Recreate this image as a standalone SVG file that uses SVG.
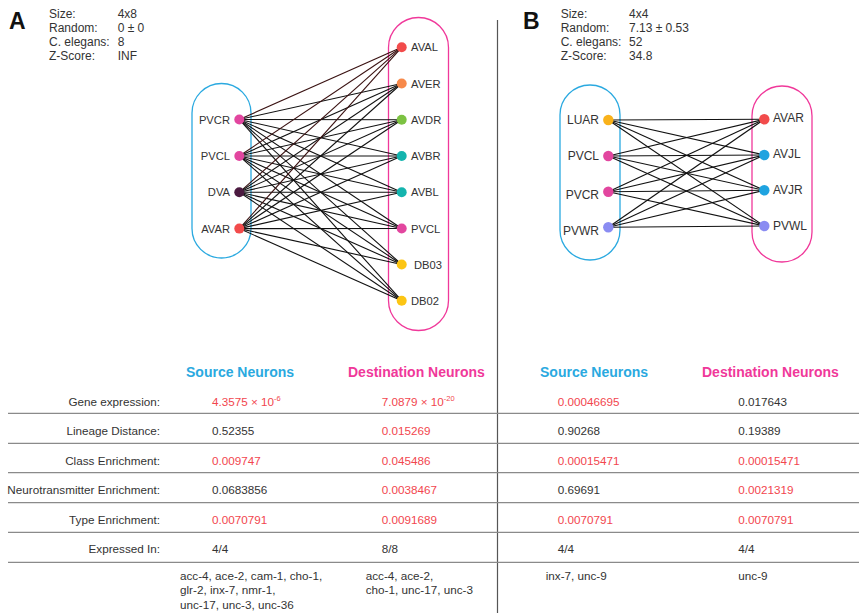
<svg xmlns="http://www.w3.org/2000/svg" width="859" height="613" viewBox="0 0 859 613">
  <style>
    text { font-family: "Liberation Sans", Arial, sans-serif; fill: #333; }
    .panel { font-size: 23px; font-weight: bold; fill: #111; }
    .stat { font-size: 12px; }
    .lblA { font-size: 11.2px; }
    .lblB { font-size: 12px; }
    .row { font-size: 11.7px; text-anchor: end; }
    .val { font-size: 11.7px; }
    .red { fill: #f2464e; }
    .hsrc { font-size: 14px; font-weight: bold; fill: #2aa9e0; }
    .hdst { font-size: 14px; font-weight: bold; fill: #f0389a; }
    .pillS { fill: none; stroke: #2aa9e0; stroke-width: 1.3; }
    .pillD { fill: none; stroke: #f0389a; stroke-width: 1.3; }
    .edge { stroke: #111; stroke-width: 1.1; }
    .edgeR { stroke: #3a1212; stroke-width: 1.1; }
    .rule { stroke: #8a8a8a; stroke-width: 1.2; }
  </style>

  <!-- panel headers and statistics -->
  <g id="stats-a">
    <text class="panel" x="9" y="29">A</text>
    <text class="stat" x="49" y="18">Size:</text>
    <text class="stat" x="49" y="31.9">Random:</text>
    <text class="stat" x="49" y="45.8">C. elegans:</text>
    <text class="stat" x="49" y="59.7">Z-Score:</text>
    <text class="stat" x="117.7" y="18">4x8</text>
    <text class="stat" x="117.7" y="31.9">0 ± 0</text>
    <text class="stat" x="117.7" y="45.8">8</text>
    <text class="stat" x="117.7" y="59.7">INF</text>
  </g>
  <g id="stats-b">
    <text class="panel" x="523" y="29">B</text>
    <text class="stat" x="560.7" y="18">Size:</text>
    <text class="stat" x="560.7" y="31.9">Random:</text>
    <text class="stat" x="560.7" y="45.8">C. elegans:</text>
    <text class="stat" x="560.7" y="59.7">Z-Score:</text>
    <text class="stat" x="629" y="18">4x4</text>
    <text class="stat" x="629" y="31.9">7.13 ± 0.53</text>
    <text class="stat" x="629" y="45.8">52</text>
    <text class="stat" x="629" y="59.7">34.8</text>
  </g>

  <!-- divider between the two panels -->
  <line x1="497.5" y1="20" x2="497.5" y2="613" stroke="#555" stroke-width="1.2"/>

  <!-- group outlines -->
  <g id="groups">
    <rect class="pillS" x="192" y="83.5" width="59" height="174.5" rx="29.5"/>
    <rect class="pillD" x="388.5" y="17.5" width="60" height="313" rx="30"/>
    <rect class="pillS" x="560" y="85" width="60" height="175" rx="30"/>
    <rect class="pillD" x="752" y="86" width="60" height="176" rx="30"/>
  </g>

  <!-- connectors -->
  <g id="connectors">
    <!-- panel A: every source to every destination -->
    <g>
      <line class="edgeR" x1="239.3" y1="119.5" x2="401.7" y2="47.3"/>
      <line class="edge" x1="239.3" y1="119.5" x2="401.7" y2="83.5"/>
      <line class="edge" x1="239.3" y1="119.5" x2="401.7" y2="119.7"/>
      <line class="edge" x1="239.3" y1="119.5" x2="401.7" y2="156"/>
      <line class="edge" x1="239.3" y1="119.5" x2="401.7" y2="192.3"/>
      <line class="edge" x1="239.3" y1="119.5" x2="401.7" y2="228.5"/>
      <line class="edge" x1="239.3" y1="119.5" x2="401.7" y2="264.5"/>
      <line class="edge" x1="239.3" y1="119.5" x2="401.7" y2="300.7"/>

      <line class="edgeR" x1="239.3" y1="156" x2="401.7" y2="47.3"/>
      <line class="edge" x1="239.3" y1="156" x2="401.7" y2="83.5"/>
      <line class="edge" x1="239.3" y1="156" x2="401.7" y2="119.7"/>
      <line class="edge" x1="239.3" y1="156" x2="401.7" y2="156"/>
      <line class="edge" x1="239.3" y1="156" x2="401.7" y2="192.3"/>
      <line class="edge" x1="239.3" y1="156" x2="401.7" y2="228.5"/>
      <line class="edge" x1="239.3" y1="156" x2="401.7" y2="264.5"/>
      <line class="edge" x1="239.3" y1="156" x2="401.7" y2="300.7"/>

      <line class="edgeR" x1="239.3" y1="192.3" x2="401.7" y2="47.3"/>
      <line class="edge" x1="239.3" y1="192.3" x2="401.7" y2="83.5"/>
      <line class="edge" x1="239.3" y1="192.3" x2="401.7" y2="119.7"/>
      <line class="edge" x1="239.3" y1="192.3" x2="401.7" y2="156"/>
      <line class="edge" x1="239.3" y1="192.3" x2="401.7" y2="192.3"/>
      <line class="edge" x1="239.3" y1="192.3" x2="401.7" y2="228.5"/>
      <line class="edge" x1="239.3" y1="192.3" x2="401.7" y2="264.5"/>
      <line class="edge" x1="239.3" y1="192.3" x2="401.7" y2="300.7"/>

      <line class="edgeR" x1="239.3" y1="228.6" x2="401.7" y2="47.3"/>
      <line class="edge" x1="239.3" y1="228.6" x2="401.7" y2="83.5"/>
      <line class="edge" x1="239.3" y1="228.6" x2="401.7" y2="119.7"/>
      <line class="edge" x1="239.3" y1="228.6" x2="401.7" y2="156"/>
      <line class="edge" x1="239.3" y1="228.6" x2="401.7" y2="192.3"/>
      <line class="edge" x1="239.3" y1="228.6" x2="401.7" y2="228.5"/>
      <line class="edge" x1="239.3" y1="228.6" x2="401.7" y2="264.5"/>
      <line class="edge" x1="239.3" y1="228.6" x2="401.7" y2="300.7"/>
    </g>
    <!-- panel B: every source to every destination -->
    <g>
      <line class="edge" x1="608.3" y1="120" x2="764.3" y2="119.3"/>
      <line class="edge" x1="608.3" y1="120" x2="764.3" y2="155"/>
      <line class="edge" x1="608.3" y1="120" x2="764.3" y2="190.3"/>
      <line class="edge" x1="608.3" y1="120" x2="764.3" y2="226"/>
      <line class="edge" x1="608.3" y1="156" x2="764.3" y2="119.3"/>
      <line class="edge" x1="608.3" y1="156" x2="764.3" y2="155"/>
      <line class="edge" x1="608.3" y1="156" x2="764.3" y2="190.3"/>
      <line class="edge" x1="608.3" y1="156" x2="764.3" y2="226"/>
      <line class="edge" x1="608.3" y1="191.7" x2="764.3" y2="119.3"/>
      <line class="edge" x1="608.3" y1="191.7" x2="764.3" y2="155"/>
      <line class="edge" x1="608.3" y1="191.7" x2="764.3" y2="190.3"/>
      <line class="edge" x1="608.3" y1="191.7" x2="764.3" y2="226"/>
      <line class="edge" x1="608.3" y1="227.3" x2="764.3" y2="119.3"/>
      <line class="edge" x1="608.3" y1="227.3" x2="764.3" y2="155"/>
      <line class="edge" x1="608.3" y1="227.3" x2="764.3" y2="190.3"/>
      <line class="edge" x1="608.3" y1="227.3" x2="764.3" y2="226"/>
    </g>
  </g>

  <!-- panel A source neurons -->
  <g id="a-src-pvcr"><circle cx="239.3" cy="119.5" r="5" fill="#e2469f"/><text class="lblA" x="230" y="123.5" text-anchor="end">PVCR</text></g>
  <g id="a-src-pvcl"><circle cx="239.3" cy="156" r="5" fill="#e2469f"/><text class="lblA" x="230" y="160" text-anchor="end">PVCL</text></g>
  <g id="a-src-dva"><circle cx="239.3" cy="192.3" r="5" fill="#4b1a40"/><text class="lblA" x="230" y="196.3" text-anchor="end">DVA</text></g>
  <g id="a-src-avar"><circle cx="239.3" cy="228.6" r="5" fill="#f24b4b"/><text class="lblA" x="230" y="232.6" text-anchor="end">AVAR</text></g>

  <!-- panel A destination neurons -->
  <g id="a-dst-aval"><circle cx="401.7" cy="47.3" r="5" fill="#f24b4b"/><text class="lblA" x="411" y="51.3">AVAL</text></g>
  <g id="a-dst-aver"><circle cx="401.7" cy="83.5" r="5" fill="#f7894a"/><text class="lblA" x="411" y="87.5">AVER</text></g>
  <g id="a-dst-avdr"><circle cx="401.7" cy="119.7" r="5" fill="#7cc242"/><text class="lblA" x="411" y="123.7">AVDR</text></g>
  <g id="a-dst-avbr"><circle cx="401.7" cy="156" r="5" fill="#14b4ae"/><text class="lblA" x="411" y="160">AVBR</text></g>
  <g id="a-dst-avbl"><circle cx="401.7" cy="192.3" r="5" fill="#14b4ae"/><text class="lblA" x="411" y="196.3">AVBL</text></g>
  <g id="a-dst-pvcl"><circle cx="401.7" cy="228.5" r="5" fill="#e2469f"/><text class="lblA" x="411" y="232.5">PVCL</text></g>
  <g id="a-dst-db03"><circle cx="401.7" cy="264.5" r="5" fill="#fcc514"/><text class="lblA" x="414" y="268.5">DB03</text></g>
  <g id="a-dst-db02"><circle cx="401.7" cy="300.7" r="5" fill="#fcc514"/><text class="lblA" x="411" y="304.7">DB02</text></g>

  <!-- panel B source neurons -->
  <g id="b-src-luar"><circle cx="608.3" cy="120" r="5.2" fill="#f9b21b"/><text class="lblB" x="599" y="124.2" text-anchor="end">LUAR</text></g>
  <g id="b-src-pvcl"><circle cx="608.3" cy="156" r="5.2" fill="#e2469f"/><text class="lblB" x="599" y="160.2" text-anchor="end">PVCL</text></g>
  <g id="b-src-pvcr"><circle cx="608.3" cy="191.7" r="5.2" fill="#e2469f"/><text class="lblB" x="599" y="199" text-anchor="end">PVCR</text></g>
  <g id="b-src-pvwr"><circle cx="608.3" cy="227.3" r="5.2" fill="#8a8cf2"/><text class="lblB" x="599" y="235" text-anchor="end">PVWR</text></g>

  <!-- panel B destination neurons -->
  <g id="b-dst-avar"><circle cx="764.3" cy="119.3" r="5.2" fill="#f24b4b"/><text class="lblB" x="773" y="122">AVAR</text></g>
  <g id="b-dst-avjl"><circle cx="764.3" cy="155" r="5.2" fill="#1fa3e0"/><text class="lblB" x="773" y="158">AVJL</text></g>
  <g id="b-dst-avjr"><circle cx="764.3" cy="190.3" r="5.2" fill="#1fa3e0"/><text class="lblB" x="773" y="194">AVJR</text></g>
  <g id="b-dst-pvwl"><circle cx="764.3" cy="226" r="5.2" fill="#8a8cf2"/><text class="lblB" x="773" y="230">PVWL</text></g>

  <!-- statistics table -->
  <g id="table">
    <text class="hsrc" x="186" y="376.5">Source Neurons</text>
    <text class="hdst" x="348" y="376.5">Destination Neurons</text>
    <text class="hsrc" x="540" y="376.5">Source Neurons</text>
    <text class="hdst" x="702" y="376.5">Destination Neurons</text>

    <line class="rule" x1="8" y1="413.3" x2="859" y2="413.3"/>
    <line class="rule" x1="8" y1="443.3" x2="859" y2="443.3"/>
    <line class="rule" x1="8" y1="472.7" x2="859" y2="472.7"/>
    <line class="rule" x1="8" y1="502.7" x2="859" y2="502.7"/>
    <line class="rule" x1="8" y1="532.3" x2="859" y2="532.3"/>
    <line class="rule" x1="8" y1="562.3" x2="859" y2="562.3"/>

    <text class="row" x="160" y="405.5">Gene expression:</text>
    <text class="row" x="160" y="435">Lineage Distance:</text>
    <text class="row" x="160" y="465">Class Enrichment:</text>
    <text class="row" x="160" y="494">Neurotransmitter Enrichment:</text>
    <text class="row" x="160" y="523.5">Type Enrichment:</text>
    <text class="row" x="160" y="552.5">Expressed In:</text>

    <!-- panel A, source column -->
    <text class="val red" x="212" y="405.5">4.3575 × 10<tspan font-size="7.5" dy="-4.5">-6</tspan></text>
    <text class="val" x="212" y="435">0.52355</text>
    <text class="val red" x="212" y="465">0.009747</text>
    <text class="val" x="212" y="494">0.0683856</text>
    <text class="val red" x="212" y="523.5">0.0070791</text>
    <text class="val" x="212" y="552.5">4/4</text>
    <text class="val" x="180" y="579.5">acc-4, ace-2, cam-1, cho-1,</text>
    <text class="val" x="180" y="594">glr-2, inx-7, nmr-1,</text>
    <text class="val" x="180" y="608.5">unc-17, unc-3, unc-36</text>

    <!-- panel A, destination column -->
    <text class="val red" x="381.7" y="405.5">7.0879 × 10<tspan font-size="7.5" dy="-4.5">-20</tspan></text>
    <text class="val red" x="381.7" y="435">0.015269</text>
    <text class="val red" x="381.7" y="465">0.045486</text>
    <text class="val red" x="381.7" y="494">0.0038467</text>
    <text class="val red" x="381.7" y="523.5">0.0091689</text>
    <text class="val" x="381.7" y="552.5">8/8</text>
    <text class="val" x="365.7" y="579.5">acc-4, ace-2,</text>
    <text class="val" x="365.7" y="594">cho-1, unc-17, unc-3</text>

    <!-- panel B, source column -->
    <text class="val red" x="557.7" y="405.5">0.00046695</text>
    <text class="val" x="557.7" y="435">0.90268</text>
    <text class="val red" x="557.7" y="465">0.00015471</text>
    <text class="val" x="557.7" y="494">0.69691</text>
    <text class="val red" x="557.7" y="523.5">0.0070791</text>
    <text class="val" x="557.7" y="552.5">4/4</text>
    <text class="val" x="545.7" y="579.5">inx-7, unc-9</text>

    <!-- panel B, destination column -->
    <text class="val" x="738.3" y="405.5">0.017643</text>
    <text class="val" x="738.3" y="435">0.19389</text>
    <text class="val red" x="738.3" y="465">0.00015471</text>
    <text class="val red" x="738.3" y="494">0.0021319</text>
    <text class="val red" x="738.3" y="523.5">0.0070791</text>
    <text class="val" x="738.3" y="552.5">4/4</text>
    <text class="val" x="738.3" y="579.5">unc-9</text>
  </g>
</svg>
